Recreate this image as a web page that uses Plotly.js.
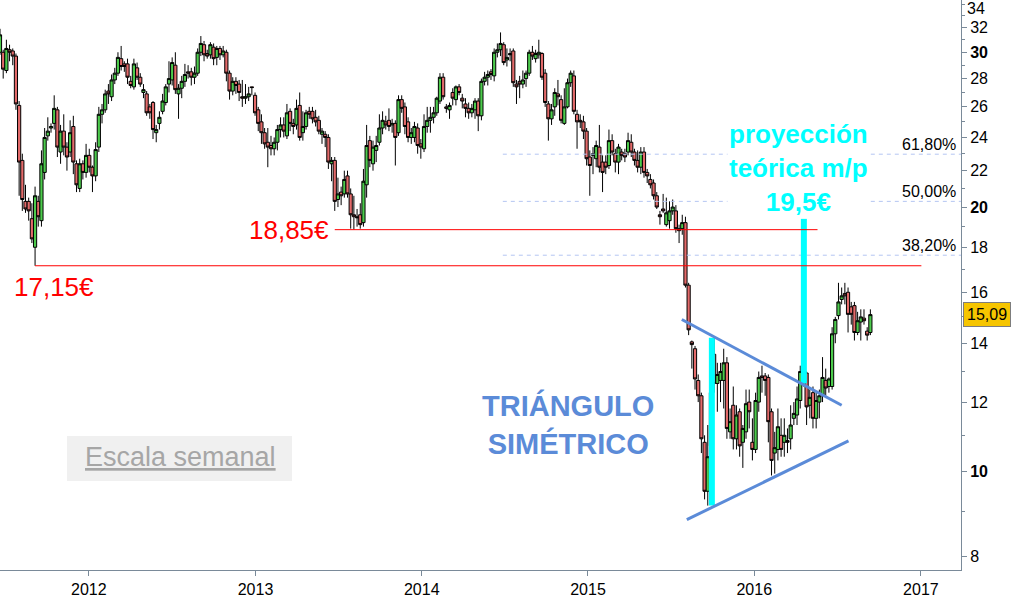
<!DOCTYPE html>
<html>
<head>
<meta charset="utf-8">
<script src="https://cdn.plot.ly/plotly-3.0.1.min.js"></script>
<style>html,body{margin:0;padding:0;background:#fff;}#chart{width:1014px;height:597px;}</style>
</head>
<body>
<div id="chart"></div>
<script>
// Weekly candles, first week starting 2011-06-06
const firstWeek = '2011-06-06';
const openP = [
30.3,30.6,30.0,30.0,28.6,30.2,30.1,29.7,26.1,22.6,
20.3,20.3,19.4,18.0,20.3,19.3,21.9,24.1,24.6,24.9,
25.8,23.1,24.4,23.4,23.1,24.7,22.4,21.0,22.4,21.9,
22.9,22.2,21.7,23.4,25.5,25.8,27.1,26.7,27.9,28.4,
29.5,29.1,29.1,27.8,27.4,28.8,28.1,27.0,26.9,26.0,
26.3,24.3,24.9,25.7,26.3,27.6,27.9,29.0,26.9,27.3,
27.8,28.5,28.5,28.1,28.4,30.0,30.6,29.9,29.8,30.4,
29.6,30.3,29.8,30.0,28.4,27.1,27.8,27.6,26.7,26.6,
26.7,27.4,26.8,25.8,25.0,24.3,23.7,23.5,23.3,23.7,
24.5,24.8,24.1,25.7,24.9,24.8,26.1,24.3,24.7,25.7,
25.7,25.3,25.1,24.2,24.2,24.0,22.4,22.6,20.4,20.8,
20.7,21.7,20.7,19.6,19.5,19.6,19.2,21.2,23.8,22.4,
23.2,23.7,24.6,25.0,25.1,24.8,24.9,24.3,26.5,26.0,
25.0,24.0,24.0,24.6,23.6,23.3,24.7,25.1,25.3,25.6,
26.4,28.1,26.0,25.8,27.0,26.5,27.4,26.6,26.2,25.9,
25.6,25.8,26.4,25.4,27.8,28.1,28.5,28.2,30.0,30.2,
30.6,29.4,29.9,30.1,27.6,27.8,27.6,28.0,28.4,30.0,
29.5,29.8,29.9,28.4,26.2,25.2,26.0,26.9,26.5,24.9,
26.0,27.7,28.2,25.5,25.1,25.0,24.4,22.8,22.9,22.7,
23.4,22.5,22.5,22.3,23.8,23.0,22.5,23.1,23.0,23.1,
23.7,23.1,22.6,22.2,23.1,21.9,21.5,21.3,20.6,19.6,
19.9,19.1,19.3,19.8,19.8,18.9,18.9,19.2,16.3,14.05,
13.8,12.7,12.2,10.8,9.5,10.7,13.6,12.6,12.7,12.7,
13.3,11.1,11.9,10.9,11.7,10.8,11.1,12.0,10.8,10.6,
12.0,12.85,12.85,12.8,11.7,10.5,10.6,11.0,10.8,10.85,
10.9,11.5,11.6,12.05,12.75,12.95,11.9,12.3,11.5,12.0,
12.2,12.7,12.5,12.5,14.35,15.05,15.7,15.95,16.0,15.4,
15.45,14.4,14.8,14.95,14.45,14.4
];
const highP = [
31.4,30.9,31.9,30.2,31.0,30.6,30.3,29.9,26.4,23.0,
21.2,20.5,20.2,21.1,20.6,23.2,24.6,25.3,24.9,26.8,
26.0,24.8,25.5,23.7,25.1,25.4,22.6,22.7,22.6,23.6,
23.3,22.3,23.7,26.0,26.2,27.2,27.6,28.3,28.8,30.0,
30.5,29.3,29.5,28.2,29.5,29.2,28.4,27.6,27.1,26.2,
26.4,24.8,25.7,26.9,27.6,29.3,29.6,30.0,27.6,28.2,
29.1,29.0,28.8,28.9,30.3,31.3,30.9,30.2,30.8,30.7,
30.5,30.5,30.5,30.2,28.6,28.1,28.1,27.9,27.9,27.6,
27.4,27.4,27.0,26.0,25.5,24.6,24.6,24.1,24.0,24.8,
25.3,25.3,26.2,25.9,25.2,26.5,27.0,25.7,25.8,26.0,
26.0,25.8,25.4,24.6,24.4,24.2,22.8,22.8,21.6,21.1,
22.0,22.0,21.0,20.6,19.9,20.2,22.1,24.8,24.1,23.8,
24.1,25.5,25.7,25.4,25.9,25.2,25.1,26.8,26.8,26.3,
25.3,24.6,25.0,24.9,23.9,25.5,26.0,26.0,26.0,26.7,
28.4,28.4,26.2,26.3,27.3,27.5,27.6,26.9,26.6,26.3,
26.2,26.6,26.6,28.0,28.5,28.6,28.7,30.3,30.7,31.6,
30.8,30.3,30.3,30.3,27.9,28.2,28.6,28.6,30.2,30.5,
30.2,31.0,30.0,28.7,26.4,26.2,27.3,27.9,26.8,27.3,
28.0,28.6,28.6,25.8,25.5,25.4,24.6,23.2,23.4,23.8,
24.8,22.9,22.9,24.5,24.2,23.3,23.6,23.3,23.3,24.3,
24.2,23.3,23.2,23.4,23.4,22.1,21.8,21.5,20.8,19.8,
20.7,20.5,20.3,20.4,20.1,19.1,19.6,19.5,16.4,14.1,
13.9,12.9,12.3,11.0,11.3,12.9,14.2,13.3,13.3,13.8,
13.5,11.8,12.5,11.9,11.8,11.3,12.4,12.4,11.5,12.3,
13.0,13.2,12.95,12.9,11.8,11.1,11.8,11.5,11.5,11.2,
11.9,12.0,12.5,13.2,13.3,13.0,12.4,12.5,12.3,12.4,
13.5,13.1,12.8,14.6,15.0,16.4,16.2,16.4,16.2,15.6,
15.6,15.2,15.3,15.3,14.6,15.3
];
const lowP = [
30.0,29.7,29.8,28.0,28.4,29.3,29.0,25.8,20.6,19.8,
19.7,19.3,18.2,17.15,19.0,19.0,21.5,23.8,24.3,24.5,
22.8,22.4,22.9,22.0,22.8,21.8,20.8,20.8,21.5,21.6,
21.9,20.8,21.4,23.1,24.9,25.6,26.2,26.4,27.6,28.2,
28.6,28.5,27.6,27.3,27.2,27.9,27.4,26.6,25.4,25.2,
23.9,23.7,24.5,25.5,26.1,27.0,27.5,26.9,25.2,26.6,
27.4,28.0,27.5,27.6,28.2,29.7,29.3,29.5,29.5,29.0,
29.0,29.4,29.6,27.8,26.5,26.8,26.9,26.4,26.0,26.2,
26.4,26.8,25.4,24.4,23.6,23.3,22.2,22.9,22.9,23.2,
24.0,24.0,23.9,24.4,24.2,24.5,23.8,23.8,24.5,25.2,
24.9,24.7,24.2,23.6,23.4,22.1,21.4,19.8,20.0,20.1,
20.5,20.5,18.9,18.85,19.0,18.9,19.0,20.5,22.2,22.0,
22.5,23.5,24.2,24.5,24.4,24.3,22.3,24.1,25.6,24.2,
23.7,23.6,23.7,23.0,22.7,23.1,24.3,24.3,24.9,25.4,
26.2,26.5,25.6,25.2,26.1,26.1,26.8,25.9,25.3,25.2,
25.3,25.2,24.4,25.1,27.5,27.5,27.9,27.8,29.6,29.7,
29.0,28.9,29.3,27.4,26.2,26.6,27.3,27.4,28.2,29.4,
29.2,29.5,27.9,26.0,23.8,24.8,25.4,26.1,24.9,24.8,
25.9,27.4,25.5,23.3,24.6,23.9,22.3,20.6,21.8,22.2,
21.9,20.8,21.8,22.1,22.9,21.9,21.8,22.6,22.5,22.9,
22.8,22.3,21.9,21.8,21.6,21.3,21.0,20.4,19.9,19.1,
19.7,19.0,18.9,19.6,18.7,18.2,18.6,16.2,14.3,13.1,
12.4,12.0,10.5,9.3,9.15,10.4,12.3,11.7,12.0,11.8,
10.9,10.9,10.6,10.6,10.4,10.1,10.9,11.2,10.3,10.5,
11.7,12.3,12.2,10.8,9.9,9.95,10.3,10.4,10.4,10.5,
10.6,11.3,11.3,11.8,12.5,11.3,11.5,11.2,11.2,11.5,
12.0,12.2,12.3,12.4,14.0,14.9,15.5,15.5,14.4,14.7,
14.1,14.3,14.1,14.7,14.1,14.3
];
const closeP = [
31.1,30.0,31.4,28.7,30.3,30.0,29.7,26.2,22.5,20.4,
19.9,19.8,18.4,20.6,19.5,22.4,24.0,24.4,24.7,25.9,
23.4,24.4,23.4,22.8,24.3,22.5,21.2,22.4,21.9,22.9,
22.2,21.7,23.25,25.5,25.8,26.9,26.9,27.9,28.4,29.6,
28.9,28.9,28.1,27.5,29.1,28.1,27.6,27.2,25.6,25.6,
24.5,24.5,25.3,26.4,27.4,28.0,29.2,27.2,27.3,27.8,
28.3,28.4,28.1,28.4,30.0,30.7,29.8,29.7,30.6,29.5,
30.3,29.8,30.1,28.4,27.1,27.8,27.5,27.0,26.6,26.7,
26.9,27.35,25.6,24.9,24.3,23.6,23.4,23.3,23.7,24.5,
24.8,24.4,25.6,24.9,24.7,25.9,24.0,24.7,25.6,25.5,
25.2,25.0,24.4,24.4,24.0,22.5,22.6,20.3,20.7,20.6,
21.5,20.7,19.6,19.5,19.45,19.1,21.4,23.5,22.6,23.4,
23.5,24.6,25.1,24.8,24.7,24.9,24.0,26.5,25.9,24.7,
24.0,24.3,24.7,23.5,23.4,24.7,25.1,25.3,25.6,26.6,
28.1,26.7,25.9,26.1,26.6,27.4,27.0,26.4,25.9,25.6,
25.9,26.4,25.4,27.8,28.1,28.3,28.3,30.0,30.2,30.7,
29.2,29.6,29.8,27.7,27.4,27.6,27.9,28.4,30.0,29.7,
29.9,30.0,28.1,26.3,25.2,25.8,27.0,26.7,25.1,26.0,
27.7,28.4,25.7,25.0,25.0,24.4,22.7,22.3,23.0,23.5,
22.2,21.9,22.2,23.8,23.1,22.5,23.4,22.9,22.8,23.8,
23.1,22.6,22.2,23.1,21.9,21.7,21.2,20.6,20.0,19.5,
19.8,19.7,19.8,20.0,18.9,18.8,19.2,16.3,14.5,13.95,
12.75,12.2,10.9,9.5,10.4,12.3,12.6,12.9,13.0,13.3,
11.2,11.4,10.9,11.6,10.7,11.2,11.95,11.7,10.6,12.05,
12.8,12.8,12.7,11.4,10.3,10.65,11.25,10.6,11.0,10.8,
11.3,11.65,12.1,13.0,13.05,11.85,12.15,11.5,12.05,12.2,
12.8,12.45,12.75,14.35,14.9,15.6,15.85,15.85,15.1,15.1,
14.4,14.85,15.0,14.85,14.3,15.09
];

// Reference levels
const supportLow = 17.15, supportLowFrom = '2011-09-05', supportLowTo = '2017-01-02';
const support2 = 18.85, support2From = '2013-06-24', support2To = '2016-05-19';
const fibLevels = [22.97, 20.3, 17.63];
const fibLabels = ['61,80%', '50,00%', '38,20%'];
const fibFrom = '2014-06-28', fibTo = '2017-03-30';
const triUpperX = ['2015-07-26', '2016-07-11'], triUpperY = [14.9, 11.9];
const triLowerX = ['2015-08-06', '2016-07-26'], triLowerY = [8.82, 10.84];
const bar1X = '2015-09-30', bar1Y = [9.15, 14.2];
const bar2X = '2016-04-19', bar2Y = [12.6, 19.4];
const lastPrice = 15.09;
const yTickVals = [8,10,12,14,16,18,20,22,24,26,28,30,32];
const yTickText = ['8','<b>10</b>','12','14','16','18','<b>20</b>','22','24','26','28','<b>30</b>','32'];
const yTopLabel = '34';
const yMinor = [9,11,13,15,17,19,21,23,25,27,29,31,33,34];

const weeks = closeP.map((_, i) => {
  const d = new Date(Date.parse(firstWeek + 'T00:00:00Z') + i * 7 * 86400000);
  return d.toISOString().slice(0, 10);
});

const traces = [];
fibLevels.forEach(v => traces.push({
  type: 'scatter', mode: 'lines', x: [fibFrom, fibTo], y: [v, v],
  line: {color: '#b4c6f2', width: 1, dash: '4px,4px'}, hoverinfo: 'skip'
}));
traces.push({type:'scatter', mode:'lines', x:[bar1X,bar1X], y:bar1Y, line:{color:'#00ffff', width:6}, hoverinfo:'skip'});
traces.push({type:'scatter', mode:'lines', x:[bar2X,bar2X], y:bar2Y, line:{color:'#00ffff', width:6}, hoverinfo:'skip'});
traces.push({
  type: 'candlestick', x: weeks, open: openP, high: highP, low: lowP, close: closeP,
  increasing: {line: {color: '#000000', width: 1}, fillcolor: '#4ccb4c'},
  decreasing: {line: {color: '#000000', width: 1}, fillcolor: '#e36a6a'},
  whiskerwidth: 0, hoverinfo: 'skip'
});
traces.push({type:'scatter', mode:'lines', x:[supportLowFrom, supportLowTo], y:[supportLow, supportLow], line:{color:'#ff0000', width:1}, hoverinfo:'skip'});
traces.push({type:'scatter', mode:'lines', x:[support2From, support2To], y:[support2, support2], line:{color:'#ff0000', width:1}, hoverinfo:'skip'});
traces.push({type:'scatter', mode:'lines', x:triUpperX, y:triUpperY, line:{color:'#5b8bd8', width:3}, hoverinfo:'skip'});
traces.push({type:'scatter', mode:'lines', x:triLowerX, y:triLowerY, line:{color:'#5b8bd8', width:3}, hoverinfo:'skip'});

const F = 'Liberation Sans, Arial, sans-serif';
const annotations = [
  {text:'18,85€', xref:'x', yref:'y', x:support2From, y:Math.log10(support2), xanchor:'right', yanchor:'middle', xshift:-4, showarrow:false, font:{family:F, size:26, color:'#ff0000'}},
  {text:'17,15€', xref:'paper', yref:'y', x:54/961, y:Math.log10(supportLow), xanchor:'center', yanchor:'top', yshift:-4, showarrow:false, font:{family:F, size:26, color:'#ff0000'}},
  {text:'<b>proyección<br>teórica m/p<br>19,5€</b>', xref:'paper', yref:'paper', x:798/961, y:1-168/570, xanchor:'center', yanchor:'middle', showarrow:false, bgcolor:'#ffffff', font:{family:F, size:26, color:'#00ffff'}},
  {text:'<b>TRIÁNGULO<br>SIMÉTRICO</b>', xref:'paper', yref:'paper', x:568/961, y:1-424/570, xanchor:'center', yanchor:'middle', showarrow:false, font:{family:F, size:29, color:'#5b8bd8'}},
  {text:'<u>Escala semanal</u>', xref:'paper', yref:'paper', x:180/961, y:1-457/570, xanchor:'center', yanchor:'middle', showarrow:false, font:{family:F, size:27, color:'#a6a6a6'}},
  {text:'15,09', xref:'paper', yref:'y', x:1, y:Math.log10(lastPrice), xanchor:'left', yanchor:'middle', xshift:2, showarrow:false, bgcolor:'#f6c500', bordercolor:'#7d7d7d', borderwidth:1, borderpad:3, font:{family:F, size:16, color:'#000000'}},
  {text:yTopLabel, xref:'paper', yref:'paper', x:1, y:1, xanchor:'left', yanchor:'top', xshift:5, yshift:1, borderpad:0, showarrow:false, font:{family:F, size:16, color:'#000000'}}
];
fibLevels.forEach((v, i) => annotations.push({
  text: fibLabels[i], xref:'paper', yref:'y', x:958/961, y:Math.log10(v), xanchor:'right', yanchor:'bottom', yshift:-1,
  showarrow:false, font:{family:F, size:16, color:'#000000'}
}));

const layout = {
  width: 1014, height: 597,
  margin: {l: 0, r: 53, t: 0, b: 27},
  paper_bgcolor: '#ffffff', plot_bgcolor: '#ffffff',
  showlegend: false, boxgap: 0, boxgroupgap: 0,
  font: {family: F, size: 16, color: '#000000'},
  xaxis: {
    type: 'date', range: ['2011-06-20', '2017-03-30'],
    rangeslider: {visible: false},
    showgrid: false, zeroline: false,
    showline: true, linecolor: '#7a8a99', linewidth: 1,
    ticks: 'outside', ticklen: 5, tickcolor: '#7a8a99',
    tick0: '2012-01-01', dtick: 'M12', tickformat: '%Y',
    tickfont: {family: F, size: 16, color: '#000000'}, fixedrange: true
  },
  yaxis: {
    type: 'log', side: 'right',
    range: [Math.log10(7.73), Math.log10(34.4)],
    tickmode: 'array', tickvals: yTickVals, ticktext: yTickText,
    showgrid: false, zeroline: false,
    showline: true, linecolor: '#7a8a99', linewidth: 1,
    ticks: 'outside', ticklen: 5, tickcolor: '#7a8a99',
    minor: {tickmode: 'array', tickvals: yMinor, ticks: 'outside', ticklen: 3, tickcolor: '#7a8a99', showgrid: false},
    tickfont: {family: F, size: 16, color: '#000000'}, fixedrange: true
  },
  shapes: [
    {type:'rect', xref:'paper', yref:'paper', x0:67/961, x1:292/961, y0:1-481/570, y1:1-436/570, fillcolor:'#f0f0f0', line:{width:0}, layer:'below'}
  ],
  annotations: annotations
};

Plotly.newPlot('chart', traces, layout, {displayModeBar: false, staticPlot: true});
</script>
</body>
</html>
